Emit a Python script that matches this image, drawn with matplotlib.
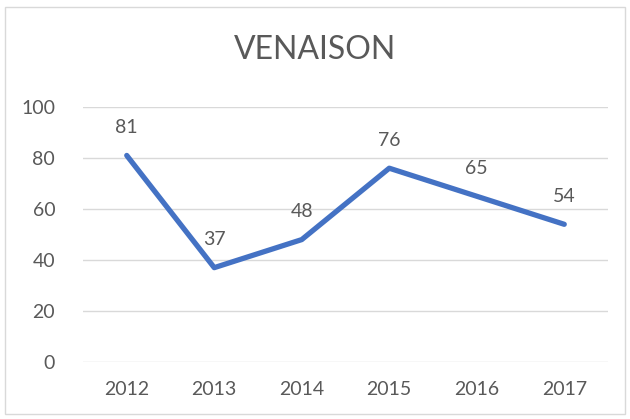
import matplotlib.pyplot as plt
from matplotlib.patches import Rectangle

years = ["2012", "2013", "2014", "2015", "2016", "2017"]
values = [81, 37, 48, 76, 65, 54]

plt.rcParams['font.family'] = ['Lato', 'DejaVu Sans']
txt = "#595959"

fig = plt.figure(figsize=(6.3, 4.19), dpi=100)
ax = fig.add_axes([83 / 630, 57 / 419, 525 / 630, 255 / 419])

x = range(len(years))
ax.plot(x, values, color="#4472C4", linewidth=3.8, solid_capstyle="round", zorder=3)
for i, v in zip(x, values):
    ax.annotate(str(v), (i, v), xytext=(0, 14), textcoords="offset points",
                ha="center", va="bottom", fontsize=14, color=txt)

ax.set_xlim(-0.5, len(years) - 0.5)
ax.set_ylim(0, 100)
ax.set_yticks(range(0, 101, 20))
ax.set_xticks(list(x))
ax.set_xticklabels(years)
ax.grid(axis="y", color="#D9D9D9", linewidth=1)
ax.set_axisbelow(True)
for s in ax.spines.values():
    s.set_visible(False)
ax.tick_params(length=0, labelsize=14, colors=txt, pad=20)
ax.tick_params(axis="x", pad=14)

fig.text(0.5, 1 - 50 / 419, "VENAISON", ha="center", va="center", fontsize=23, color=txt)
fig.patches.append(Rectangle((5 / 630, 5 / 419), 620 / 630, 407 / 419, transform=fig.transFigure,
                             fill=False, edgecolor="#D9D9D9", linewidth=1))

fig.savefig("out.png", dpi=100)
